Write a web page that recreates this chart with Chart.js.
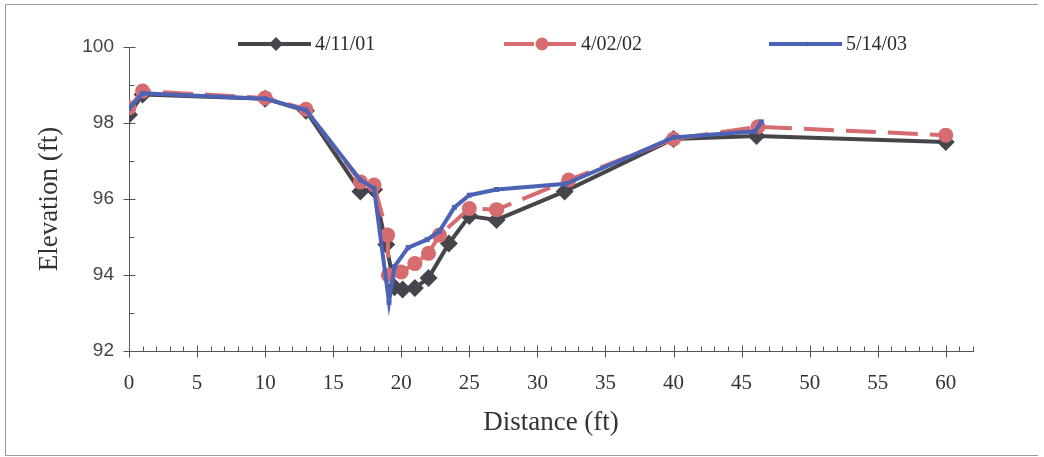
<!DOCTYPE html>
<html>
<head>
<meta charset="utf-8">
<script src="https://cdn.jsdelivr.net/npm/chart.js@4/dist/chart.umd.min.js"></script>
<style>
  html, body { margin: 0; padding: 0; background: #ffffff; }
  #wrap { width: 1044px; height: 457px; position: relative; }
</style>
</head>
<body>
<div id="wrap"><canvas id="c" width="1044" height="457"></canvas></div>
<script>
// ---- data ----
const seriesLabels = ['4/11/01', '4/02/02', '5/14/03'];

const dist0411 = [0, 1, 10, 13, 17, 18, 18.9, 19.5, 20.1, 21, 22, 23.5, 25, 27, 32, 40, 46.1, 60];
const elev0411 = [98.22, 98.75, 98.64, 98.32, 96.2, 96.25, 94.8, 93.68, 93.62, 93.66, 93.92, 94.83, 95.55, 95.45, 96.2, 97.58, 97.66, 97.5];

const dist0402 = [0, 1, 10, 13, 17, 18, 19, 19.05, 20, 21, 22, 22.8, 25, 27, 32.3, 40, 46.2, 60];
const elev0402 = [98.4, 98.84, 98.66, 98.36, 96.45, 96.37, 95.05, 94.0, 94.08, 94.3, 94.57, 95.05, 95.75, 95.72, 96.5, 97.58, 97.9, 97.68];

const dist0514 = [0, 1, 10, 13, 17, 18, 19.1, 19.5, 20.5, 21.9, 22.8, 23.9, 25, 27, 32.1, 40, 46.0, 46.45];
const elev0514 = [98.38, 98.78, 98.64, 98.34, 96.5, 96.28, 93.28, 94.22, 94.72, 94.93, 95.15, 95.78, 96.1, 96.25, 96.4, 97.62, 97.78, 98.03];

const xTickValues = [0, 5, 10, 15, 20, 25, 30, 35, 40, 45, 50, 55, 60];
const yTickValues = [92, 94, 96, 98, 100];

function pts(xs, ys) { return xs.map((x, i) => ({ x: x, y: ys[i] })); }

// ---- plugins ----
const framePlugin = {
  id: 'frame',
  beforeDraw(chart) {
    const ctx = chart.ctx;
    ctx.save();
    ctx.strokeStyle = '#9a9a9a';
    ctx.lineWidth = 1;
    ctx.beginPath();
    ctx.moveTo(1038, 4.5); ctx.lineTo(5.5, 4.5); ctx.lineTo(5.5, 455.5); ctx.lineTo(1038, 455.5);
    ctx.stroke();
    ctx.restore();
  }
};

const tickPlugin = {
  id: 'tickMarks',
  afterDraw(chart) {
    const ctx = chart.ctx;
    const xs = chart.scales.x, ys = chart.scales.y;
    const axY = Math.round(ys.getPixelForValue(ys.min)) + 0.5;
    const axX = Math.round(xs.getPixelForValue(xs.min)) + 0.5;
    ctx.save();
    ctx.strokeStyle = '#555';
    ctx.lineWidth = 1;
    ctx.beginPath();
    for (let v = xs.min; v <= xs.max; v++) {
      const px = Math.round(xs.getPixelForValue(v)) + 0.5;
      if (xTickValues.includes(v)) { ctx.moveTo(px, axY - 6); ctx.lineTo(px, axY + 6); }
      else { ctx.moveTo(px, axY); ctx.lineTo(px, axY - 5); }
    }
    for (let v = ys.min; v <= ys.max; v++) {
      const py = Math.round(ys.getPixelForValue(v)) + 0.5;
      if (yTickValues.includes(v)) { ctx.moveTo(axX - 6, py); ctx.lineTo(axX + 6, py); }
      else { ctx.moveTo(axX, py); ctx.lineTo(axX + 5, py); }
    }
    ctx.stroke();
    ctx.restore();
  }
};

function drawMarker(ctx, style, x, y, r, color) {
  ctx.fillStyle = color;
  ctx.beginPath();
  if (style === 'rectRot') {
    ctx.moveTo(x, y - r); ctx.lineTo(x + r, y); ctx.lineTo(x, y + r); ctx.lineTo(x - r, y); ctx.closePath();
  } else if (style === 'circle') {
    ctx.arc(x, y, r, 0, Math.PI * 2);
  } else {
    const s = r * Math.SQRT1_2;
    ctx.rect(x - s, y - s, 2 * s, 2 * s);
  }
  ctx.fill();
}

const legendPlugin = {
  id: 'customLegend',
  afterDatasetsDraw(chart) {
    const ctx = chart.ctx;
    const starts = [238, 504, 769];
    const y = 44;
    const lineLen = 73;
    ctx.save();
    chart.data.datasets.forEach((ds, i) => {
      const x0 = starts[i];
      ctx.strokeStyle = ds.borderColor;
      ctx.lineWidth = ds.borderWidth;
      ctx.setLineDash(ds.borderDash || []);
      ctx.beginPath();
      ctx.moveTo(x0, y); ctx.lineTo(x0 + lineLen, y);
      ctx.stroke();
      ctx.setLineDash([]);
      const r = ds.pointStyle === 'rectRot' ? 7 : ds.pointStyle === 'circle' ? 6.5 : 3;
      drawMarker(ctx, ds.pointStyle, x0 + 38, y, r, ds.pointBackgroundColor);
      ctx.fillStyle = '#2a2a2a';
      ctx.font = '20px "Liberation Serif", "DejaVu Serif", serif';
      ctx.textBaseline = 'middle';
      ctx.textAlign = 'left';
      ctx.fillText(ds.label, x0 + lineLen + 4, y + 1);
    });
    ctx.restore();
  }
};

// ---- chart ----
new Chart(document.getElementById('c'), {
  type: 'line',
  data: {
    datasets: [
      {
        label: seriesLabels[0],
        data: pts(dist0411, elev0411),
        borderColor: '#47454c',
        backgroundColor: '#47454c',
        borderWidth: 4,
        pointStyle: 'rectRot',
        pointRadius: 9,
        pointBackgroundColor: '#47454c',
        pointBorderColor: '#47454c',
        pointBorderWidth: 0,
        tension: 0,
        order: 3
      },
      {
        label: seriesLabels[1],
        data: pts(dist0402, elev0402),
        borderColor: '#d66c70',
        backgroundColor: '#d66c70',
        borderWidth: 4,
        borderDash: [30, 12],
        pointStyle: 'circle',
        pointRadius: 7.5,
        pointBackgroundColor: '#d66c70',
        pointBorderColor: '#d66c70',
        pointBorderWidth: 0,
        tension: 0,
        order: 2
      },
      {
        label: seriesLabels[2],
        data: pts(dist0514, elev0514),
        borderColor: '#4c63b5',
        backgroundColor: '#4c63b5',
        borderWidth: 4,
        pointStyle: 'rect',
        pointRadius: 3.5,
        pointBackgroundColor: '#4c63b5',
        pointBorderColor: '#4c63b5',
        pointBorderWidth: 0,
        tension: 0,
        order: 1
      }
    ]
  },
  options: {
    responsive: false,
    devicePixelRatio: 1,
    animation: false,
    events: [],
    layout: { padding: { left: 0, right: 71, top: 47, bottom: 0 } },
    plugins: { legend: { display: false }, tooltip: { enabled: false } },
    scales: {
      x: {
        type: 'linear',
        min: 0,
        max: 62,
        afterFit(s) { s.height = 106; },
        grid: { display: false, drawTicks: false },
        border: { display: true, color: '#555', width: 1 },
        ticks: {
          stepSize: 1,
          autoSkip: false,
          maxRotation: 0,
          padding: 20,
          color: '#333',
          font: { family: '"Liberation Serif", serif', size: 21 },
          callback: (v) => xTickValues.includes(v) ? String(v) : ''
        },
        title: {
          display: true,
          text: 'Distance (ft)',
          color: '#333',
          font: { family: '"Liberation Serif", serif', size: 27 },
          padding: { top: 0, bottom: 18 }
        }
      },
      y: {
        type: 'linear',
        min: 92,
        max: 100,
        afterFit(s) { s.width = 129; },
        grid: { display: false, drawTicks: false },
        border: { display: true, color: '#555', width: 1 },
        ticks: {
          stepSize: 1,
          autoSkip: false,
          padding: 15,
          color: '#444',
          font: { family: '"Liberation Sans", Arial, sans-serif', size: 19 },
          callback: (v) => yTickValues.includes(v) ? String(v) : ''
        },
        title: {
          display: true,
          text: 'Elevation (ft)',
          color: '#333',
          font: { family: '"Liberation Serif", serif', size: 27 },
          padding: { top: 34, bottom: 0 }
        }
      }
    }
  },
  plugins: [framePlugin, tickPlugin, legendPlugin]
});
</script>
</body>
</html>
